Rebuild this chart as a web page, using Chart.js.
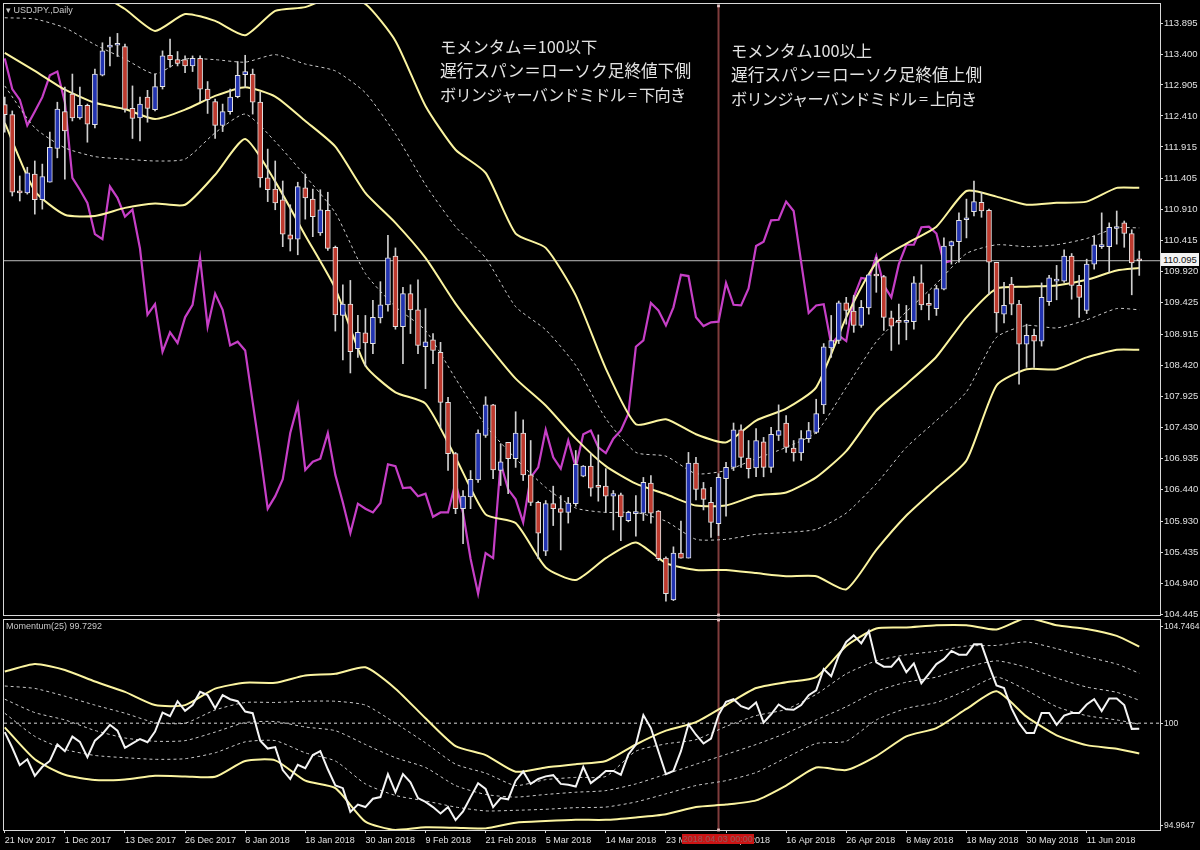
<!DOCTYPE html>
<html>
<head>
<meta charset="utf-8">
<script src="https://cdn.jsdelivr.net/npm/chart.js@4"></script>
<style>
  html, body { margin: 0; background: #000; }
  canvas { position: absolute; left: 0; }
  #priceChart { top: 0; }
  #momChart { top: 616px; }
  .txt { position: absolute; white-space: nowrap; }
  .note { font: 16.7px/24px "Noto Sans CJK JP", sans-serif; color: #e2e2e2; }
  .note .first { font-size: 16.3px; }
  .note .mid { font-size: 16.2px; letter-spacing: -0.75px; }
  .small { font: 9px/12px "Liberation Sans", sans-serif; color: #c8c8c8; }
  #priceTag { left: 1161px; top: 253px; width: 38px; height: 13px; background: #f2f2f2; color: #111; font: 9.5px/13px "Liberation Sans", sans-serif; text-align: center; }
  #timeTag { left: 682px; top: 834px; width: 72px; height: 10px; background: #cc1414; color: #8c5a5a; font: 9px/10px "Liberation Sans", sans-serif; text-align: center; }
</style>
</head>
<body>
<canvas id="priceChart" width="1200" height="625"></canvas>
<canvas id="momChart" width="1200" height="234"></canvas>

<div class="txt small" style="left:6px;top:4px">▾ USDJPY.,Daily</div>
<div class="txt small" style="left:6px;top:620px">Momentum(25) 99.7292</div>
<div class="txt note" style="left:440px;top:34px"><span class="first">モメンタム＝100以下</span><br>遅行スパン＝ローソク足終値下側<br><span class="mid">ボリンジャーバンドミドル = 下向き</span></div>
<div class="txt note" style="left:731px;top:38px"><span class="first">モメンタム100以上</span><br>遅行スパン＝ローソク足終値上側<br><span class="mid">ボリンジャーバンドミドル = 上向き</span></div>
<div class="txt" id="priceTag">110.095</div>
<div class="txt" id="timeTag">2018.04.03 00:00</div>

<script>
// candles, one entry per daily bar
const opens = [112.59,112.43,111.19,111.18,111.48,111.07,111.35,111.89,112.48,112.76,
  112.38,112.58,112.27,113.06,113.51,113.54,113.52,112.53,112.38,112.71,
  112.51,112.88,113.38,113.31,113.31,113.21,113.33,112.84,112.64,112.26,
  112.48,112.72,113.07,113.08,112.63,111.42,111.24,111.07,110.51,110.44,
  111.26,111.08,110.54,110.90,110.31,109.22,109.40,108.69,108.94,108.77,
  109.18,109.39,110.17,109.04,109.57,109.31,108.72,108.83,108.63,107.83,
  107.01,106.13,106.32,106.59,107.30,107.79,106.74,107.19,106.93,107.34,
  106.67,106.23,105.45,106.21,106.13,106.07,106.21,106.65,106.81,106.48,
  106.49,106.33,106.35,105.94,106.05,106.06,106.54,106.09,105.34,104.67,
  105.42,105.34,106.86,106.45,106.23,105.89,106.61,106.79,107.39,106.94,
  106.78,107.20,106.79,107.30,107.50,107.10,107.02,107.25,107.35,107.79,
  108.70,108.82,109.42,109.29,109.06,109.34,109.86,109.84,109.18,109.12,
  109.11,109.12,109.74,109.39,109.33,109.64,110.33,110.40,110.75,110.88,
  111.03,110.90,110.07,109.24,109.72,109.40,108.76,108.90,108.81,109.44,
  109.77,109.77,110.17,109.70,109.30,110.04,110.32,110.32,110.61,110.70,
  110.53,110.10];
const highs = [112.71,112.49,111.45,111.59,111.69,111.64,112.15,112.63,112.87,113.08,
  112.87,112.60,113.16,113.58,113.67,113.73,113.56,112.89,112.71,112.82,
  113.08,113.45,113.64,113.44,113.37,113.37,113.37,112.96,112.68,112.60,
  112.84,113.28,113.38,113.16,112.79,111.88,111.69,111.37,110.99,111.35,
  111.48,111.24,111.23,111.19,110.33,109.71,109.78,109.22,109.22,109.46,
  109.76,110.50,110.30,109.67,109.71,109.79,109.33,108.93,108.79,107.91,
  107.03,106.42,106.74,107.39,107.92,107.80,107.17,107.19,107.68,107.55,
  107.22,106.25,106.26,106.49,106.34,106.31,107.06,106.82,107.01,107.31,
  106.77,106.42,106.38,106.09,106.34,106.63,106.66,106.10,105.36,105.52,
  105.93,107.03,106.95,106.55,106.47,106.69,106.87,107.50,107.47,107.22,
  107.41,107.27,107.43,107.79,107.62,107.22,107.38,107.51,107.88,108.77,
  109.22,109.45,109.51,109.54,109.46,109.88,110.15,109.86,109.29,109.40,
  109.38,109.84,110.03,109.56,109.70,110.46,110.41,110.86,111.08,111.37,
  111.19,110.92,110.07,109.75,109.83,109.46,109.08,109.00,109.74,109.86,
  110.02,110.27,110.21,109.86,110.12,110.49,110.86,110.70,110.89,110.73,
  110.59,110.25];
const lows = [112.15,111.13,111.05,111.16,110.84,110.92,111.35,111.74,111.40,112.33,
  112.36,111.99,112.22,113.05,113.21,113.36,112.47,112.05,112.01,112.31,
  112.49,112.84,113.19,113.21,113.10,113.12,112.64,112.45,112.05,112.16,
  112.44,112.70,112.87,112.44,111.27,111.04,110.91,110.32,110.25,110.19,
  110.76,110.48,110.50,110.26,108.97,108.51,108.30,108.55,108.41,108.61,
  109.10,109.29,109.00,108.45,108.93,108.61,108.05,108.45,107.42,106.74,
  106.05,105.57,106.13,106.55,107.27,106.61,106.50,106.37,106.79,106.58,
  106.18,105.33,105.38,105.86,105.47,105.90,106.17,106.64,106.33,106.25,
  106.07,105.79,105.62,105.92,105.69,105.94,105.90,105.30,104.65,104.66,
  105.34,105.34,106.27,106.11,105.67,105.70,106.01,106.74,106.79,106.62,
  106.64,106.64,106.71,107.22,107.03,106.89,106.90,107.19,107.33,107.65,
  108.55,108.77,109.08,108.95,109.03,109.24,109.59,108.98,108.66,108.76,
  108.83,109.00,109.31,109.15,109.22,109.63,110.04,110.07,110.46,110.81,
  110.79,109.56,108.95,109.10,109.23,108.12,108.39,108.39,108.73,109.38,
  109.47,109.75,109.48,109.19,109.25,109.96,110.29,109.91,110.36,110.31,
  109.55,109.86];
const closes = [112.43,111.19,111.18,111.50,111.07,111.44,111.91,112.52,112.17,112.38,
  112.58,112.28,113.08,113.45,113.54,113.54,112.52,112.37,112.60,112.53,
  112.88,113.37,113.31,113.25,113.21,113.33,112.84,112.67,112.26,112.48,
  112.71,113.06,113.12,112.63,111.42,111.23,111.02,110.52,110.44,111.28,
  111.10,110.80,110.91,110.29,109.23,109.40,108.64,108.95,108.78,109.19,
  109.39,110.14,109.04,109.57,109.31,108.74,108.80,108.66,107.83,107.01,
  106.13,106.33,106.60,107.34,107.79,106.75,106.88,106.93,107.34,106.67,
  106.23,105.74,106.21,106.13,106.07,106.22,106.84,106.81,106.46,106.47,
  106.33,106.37,106.00,106.07,106.07,106.55,106.06,105.33,104.77,105.42,
  105.34,106.86,106.44,106.28,105.91,106.63,106.79,107.39,106.95,106.77,
  107.22,106.79,107.32,107.38,107.11,107.02,107.25,107.38,107.65,108.72,
  108.82,109.42,109.30,109.06,109.35,109.87,109.85,109.19,109.05,109.11,
  109.12,109.74,109.39,109.38,109.65,110.33,110.40,110.74,110.75,111.04,
  110.89,110.07,109.26,109.38,109.40,108.76,108.90,108.81,109.51,109.82,
  109.80,110.17,109.70,109.51,110.04,110.35,110.35,110.63,110.64,110.53,
  110.06,110.095];

// magenta lagging line, from bar 0 to bar 126
const lagging = [113.33,112.84,112.67,112.26,112.48,112.71,113.06,113.12,112.63,111.42,
  111.23,111.02,110.52,110.44,111.28,111.10,110.80,110.91,110.29,109.23,
  109.40,108.64,108.95,108.78,109.19,109.39,110.14,109.04,109.57,109.31,
  108.74,108.80,108.66,107.83,107.01,106.13,106.33,106.60,107.34,107.79,
  106.75,106.88,106.93,107.34,106.67,106.23,105.74,106.21,106.13,106.07,
  106.22,106.84,106.81,106.46,106.47,106.33,106.37,106.00,106.07,106.07,
  106.55,106.06,105.33,104.77,105.42,105.34,106.86,106.44,106.28,105.91,
  106.63,106.79,107.39,106.95,106.77,107.22,106.79,107.32,107.38,107.11,
  107.02,107.25,107.38,107.65,108.72,108.82,109.42,109.30,109.06,109.35,
  109.87,109.85,109.19,109.05,109.11,109.12,109.74,109.39,109.38,109.65,
  110.33,110.40,110.74,110.75,111.04,110.89,110.07,109.26,109.38,109.40,
  108.76,108.90,108.81,109.51,109.82,109.80,110.17,109.70,109.51,110.04,
  110.35,110.35,110.63,110.64,110.53,110.06,110.095];

// momentum, one per bar
const momentum = [99.56,98.79,97.93,98.22,97.41,97.85,98.14,98.95,98.62,99.34,
  99.08,98.33,99.14,99.47,99.92,99.63,98.79,99.00,99.22,99.06,
  99.59,100.52,100.34,101.08,100.61,100.89,101.54,101.38,100.73,101.38,
  101.18,101.08,100.57,100.49,99.14,98.75,98.82,97.69,97.25,97.95,
  97.78,98.43,98.62,97.73,96.93,96.80,95.63,95.99,95.87,96.28,
  96.36,97.49,96.60,97.49,97.09,96.31,96.12,95.87,95.55,95.87,
  95.23,95.66,96.36,97.04,96.76,95.87,96.31,96.25,97.17,97.62,
  97.01,97.25,97.38,97.44,97.01,96.97,96.88,97.85,97.05,97.33,
  97.65,97.65,97.46,98.46,98.95,100.40,99.76,98.62,97.49,97.65,
  98.62,99.95,99.43,99.00,99.24,100.40,101.05,101.18,100.84,100.70,
  101.02,100.03,100.44,100.92,100.68,100.66,100.89,101.38,101.62,102.67,
  102.31,103.32,104.00,104.32,103.93,104.53,102.99,102.78,102.78,103.20,
  102.51,102.94,101.97,102.43,102.91,103.15,103.56,103.37,103.37,103.88,
  103.88,102.83,101.86,101.73,100.73,100.00,99.51,99.51,100.50,100.50,
  99.92,100.37,100.50,100.50,100.92,101.18,100.60,101.21,101.21,100.89,
  99.72,99.73];

// bollinger bands are read every 4th bar
const bandBars = [0,4,8,12,16,20,24,28,32,36,40,44,48,52,56,60,64,68,72,76,80,84,88,92,96,100,
  104,108,112,116,120,124,128,132,136,140,144,148,151];
const priceUpper = [114.89,114.89,114.73,114.41,114.12,113.77,114.04,113.93,113.70,114.09,114.15,114.33,114.20,
  113.61,112.57,111.87,111.50,110.53,110.30,109.54,108.37,107.48,107.56,107.32,107.19,107.54,
  107.73,108.07,109.19,110.06,110.37,110.64,111.21,111.12,110.99,111.02,111.04,111.26,111.26];
const priceUpperDash = [113.98,113.96,113.82,113.55,113.32,113.08,113.32,113.31,113.27,113.39,113.24,113.13,112.78,
  112.12,111.31,110.64,110.14,109.36,108.99,108.42,107.57,107.03,106.97,106.69,106.74,106.93,
  107.11,107.35,108.07,108.80,109.28,109.73,110.21,110.35,110.32,110.35,110.45,110.62,110.62];
const priceMiddle = [113.42,113.13,112.83,112.62,112.52,112.36,112.51,112.73,112.87,112.72,112.33,111.92,111.18,
  110.70,110.14,109.41,108.79,108.21,107.78,107.25,106.81,106.53,106.36,106.18,106.18,106.34,
  106.39,106.63,107.05,107.70,108.12,108.56,109.19,109.65,109.68,109.70,109.79,109.94,109.98];
const priceLowerDash = [112.89,112.22,111.90,111.76,111.72,111.69,111.72,112.14,112.44,112.00,111.45,110.86,109.89,
  109.36,108.98,108.21,107.46,106.93,106.47,106.14,106.07,106.07,105.93,105.64,105.64,105.72,
  105.75,105.80,106.06,106.53,107.11,107.54,108.00,108.87,109.06,109.02,109.15,109.33,109.31];
const priceLower = [112.30,111.21,110.83,110.81,110.94,111.01,110.99,111.47,112.04,111.36,110.50,109.65,108.42,
  107.99,107.81,106.95,106.04,105.90,105.19,104.99,105.34,105.59,105.26,105.15,105.15,105.10,
  105.05,105.05,104.84,105.47,106.02,106.46,106.90,108.10,108.36,108.36,108.55,108.67,108.67];

const momUpper = [102.54,102.91,102.62,102.05,101.54,100.89,100.89,101.70,101.99,101.99,102.35,102.43,102.75,
  101.70,100.24,98.87,98.43,97.61,97.82,97.98,98.14,98.95,99.63,100.05,100.89,101.73,
  102.02,102.27,103.80,104.66,104.71,104.82,104.82,104.61,105.18,104.82,104.64,104.30,103.77];
const momUpperDash = [101.83,101.71,101.33,100.89,100.49,100.03,100.00,100.65,101.02,101.02,101.08,101.08,100.89,
  100.00,99.03,97.98,97.54,96.93,97.22,97.33,97.38,98.62,98.98,99.19,99.84,100.37,
  100.68,101.42,102.43,103.07,103.37,103.54,103.80,103.83,104.00,103.67,103.27,102.91,102.46];
const momMiddle = [101.18,100.52,100.16,99.64,99.27,99.11,99.14,99.56,100.03,100.08,99.81,99.63,98.95,
  98.30,97.82,96.93,96.49,96.36,96.49,96.60,96.68,97.01,97.49,97.98,98.46,98.95,
  99.51,100.16,100.81,101.57,102.02,102.27,102.75,103.07,102.75,102.22,101.78,101.52,101.13];
const momLowerDash = [100.49,99.35,98.71,98.41,98.30,98.22,98.25,98.54,99.08,99.14,98.54,98.14,97.01,
  96.44,96.17,95.87,95.68,95.71,95.76,95.84,95.87,96.12,96.52,96.93,97.17,97.57,
  98.30,99.00,99.11,100.16,100.73,101.02,101.62,102.27,101.62,100.81,100.37,100.16,99.95];
const momLower = [99.79,98.22,97.46,97.20,97.23,97.41,97.38,97.36,98.14,98.17,97.17,96.80,95.15,
  94.74,94.87,94.85,94.82,95.10,95.18,95.24,95.24,95.36,95.52,95.87,95.99,96.20,
  96.93,97.82,97.69,98.38,99.35,99.76,100.70,101.57,100.32,99.40,98.92,98.74,98.51];

// axes
const priceTicks = [113.895,113.4,112.905,112.41,111.915,111.405,110.91,110.415,109.92,109.425,
  108.915,108.42,107.925,107.43,106.935,106.44,105.93,105.435,104.94,104.445];
const momTicks = [104.7464,100,94.9647];
const dateBars = [0,8,16,24,32,40,48,56,64,72,80,88,96,104,112,120,128,136,144];
const dateLabels = ['21 Nov 2017','1 Dec 2017','13 Dec 2017','26 Dec 2017','8 Jan 2018','18 Jan 2018',
  '30 Jan 2018','9 Feb 2018','21 Feb 2018','5 Mar 2018','14 Mar 2018','23 Mar 2018','4 Apr 2018',
  '16 Apr 2018','26 Apr 2018','8 May 2018','18 May 2018','30 May 2018','11 Jun 2018'];
const lastPrice = 110.095;
const cursorBar = 95;
const momLevel = 100;

const xMin = -0.1, xMax = 153.76;
const YELLOW = '#fbf4a0', DASH = '#c9c9c9', CURSOR = '#7f3c3c';

const perBar = vals => vals.map((v, i) => ({ x: i, y: v }));
const atBands = vals => vals.map((v, i) => ({ x: bandBars[i], y: v }));
const solid = vals => ({ type: 'line', data: atBands(vals), borderColor: YELLOW, borderWidth: 2, pointRadius: 0, tension: 0.2, order: 3 });
const dashed = vals => ({ type: 'line', data: atBands(vals), borderColor: DASH, borderWidth: 1, borderDash: [3, 3], pointRadius: 0, tension: 0.2, order: 3 });
const cursor = (lo, hi) => ({
  type: 'line', data: [{ x: cursorBar, y: lo }, { x: cursorBar, y: hi }], borderColor: CURSOR, borderWidth: 2,
  pointStyle: 'rect', pointRadius: 2, pointBackgroundColor: '#e6c4c4', pointBorderWidth: 0, order: 4, clip: false,
});

// white frame around each panel
const frame = {
  id: 'frame',
  beforeDatasetsDraw(chart) {
    const { ctx, chartArea: a } = chart;
    ctx.save();
    ctx.strokeStyle = '#d8d8d8';
    ctx.lineWidth = 1;
    ctx.strokeRect(a.left - 0.5, a.top - 0.5, a.right - a.left + 1, a.bottom - a.top + 1);
    ctx.restore();
  },
};

function yAxis(min, max, ticks, size, fmt) {
  return {
    position: 'right', min, max, bounds: 'data',
    afterBuildTicks: s => { s.ticks = ticks.map(v => ({ value: v })); },
    afterFit: s => { s.width = 40; s.paddingTop = 0; s.paddingBottom = 0; },
    grid: { drawOnChartArea: false, drawTicks: true, tickLength: 3, color: '#d8d8d8' },
    border: { display: false },
    ticks: { color: '#e0e0e0', font: { family: 'Liberation Sans', size }, padding: 1, autoSkip: false, callback: fmt },
  };
}

new Chart(document.getElementById('priceChart'), {
  data: {
    datasets: [
      // bodies on top of wicks, wicks on top of the lines
      {
        type: 'bar', grouped: false, order: 1, barThickness: 5, minBarLength: 2,
        data: opens.map((o, i) => ({ x: i, y: [o, closes[i]] })),
        backgroundColor: opens.map((o, i) => closes[i] >= o ? '#2233b0' : '#bd3a2e'),
        borderColor: '#e4e4e4', borderWidth: 1, borderSkipped: false,
      },
      {
        type: 'bar', grouped: false, order: 2, barThickness: 1,
        data: highs.map((h, i) => ({ x: i, y: [lows[i], h] })),
        backgroundColor: '#cfcfcf',
      },
      solid(priceUpper), dashed(priceUpperDash), solid(priceMiddle), dashed(priceLowerDash), solid(priceLower),
      { type: 'line', data: perBar(lagging), borderColor: '#c63fc6', borderWidth: 2.2, pointRadius: 0, order: 3 },
      { type: 'line', data: [{ x: xMin, y: lastPrice }, { x: xMax, y: lastPrice }], borderColor: '#bdbdbd', borderWidth: 1, pointRadius: 0, order: 4 },
      cursor(104.43, 114.17),
    ],
  },
  options: {
    responsive: false, animation: false,
    layout: { padding: { top: 3, left: 3, right: 0, bottom: 10 } },
    plugins: { legend: { display: false }, tooltip: { enabled: false } },
    scales: {
      x: { type: 'linear', min: xMin, max: xMax, bounds: 'data', offset: false, display: false },
      y: yAxis(104.43, 114.2, priceTicks, 9.5, v => v.toFixed(3)),
    },
  },
  plugins: [frame],
});

new Chart(document.getElementById('momChart'), {
  data: {
    datasets: [
      solid(momUpper), dashed(momUpperDash), dashed(momMiddle), dashed(momLowerDash), solid(momLower),
      { type: 'line', data: perBar(momentum), borderColor: '#f4f4f4', borderWidth: 2, pointRadius: 0, order: 2 },
      { type: 'line', data: [{ x: xMin, y: momLevel }, { x: xMax, y: momLevel }], borderColor: '#d8d8d8', borderWidth: 1, borderDash: [3, 3], pointRadius: 0, order: 3 },
      cursor(94.74, 105.08),
    ],
  },
  options: {
    responsive: false, animation: false,
    layout: { padding: { top: 1, left: 3, right: 0, bottom: 0 } },
    plugins: { legend: { display: false }, tooltip: { enabled: false } },
    scales: {
      x: {
        type: 'linear', min: xMin, max: xMax, bounds: 'data',
        afterBuildTicks: s => { s.ticks = dateBars.map(v => ({ value: v })); },
        afterFit: s => { s.height = 20; s.paddingLeft = 0; s.paddingRight = 0; },
        grid: { drawOnChartArea: false, drawTicks: true, tickLength: 3, color: '#d8d8d8' },
        border: { display: false },
        ticks: {
          color: '#e0e0e0', font: { family: 'Liberation Sans', size: 9 }, padding: 2, align: 'start', autoSkip: false, maxRotation: 0,
          callback: v => dateLabels[dateBars.indexOf(v)],
        },
      },
      y: yAxis(94.74, 105.08, momTicks, 8.5, v => String(v)),
    },
  },
  plugins: [frame],
});
</script>
</body>
</html>
